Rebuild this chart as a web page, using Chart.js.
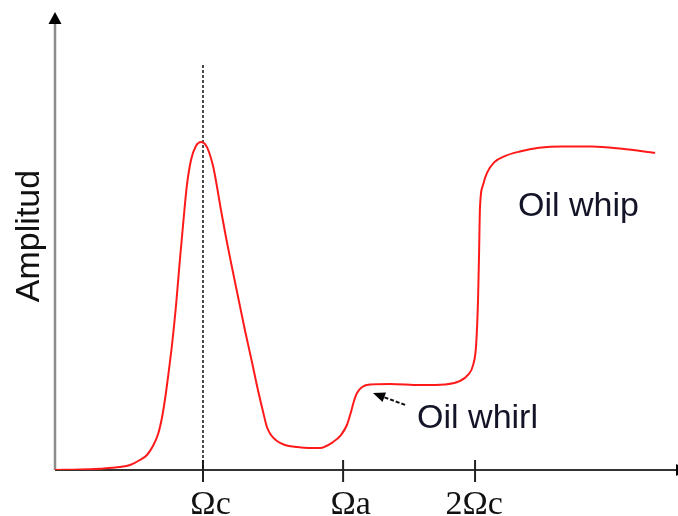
<!DOCTYPE html>
<html>
<head>
<meta charset="utf-8">
<script src="https://cdn.jsdelivr.net/npm/chart.js@4.4.1/dist/chart.umd.min.js"></script>
<style>
  html, body { margin: 0; padding: 0; background: #fff; }
  #wrap { width: 678px; height: 516px; }
</style>
</head>
<body>
<div id="wrap"><canvas id="chart" width="678" height="516"></canvas></div>
<script>
// frequency in units of the critical speed (Ω/Ωc), amplitude in arbitrary units
var freq = [0.456, 0.548, 0.620, 0.695, 0.732, 0.768, 0.794, 0.816, 0.835, 0.849, 0.860, 0.871, 0.886, 0.901, 0.915, 0.930, 0.941, 0.956, 0.974, 0.993,
  1.007, 1.022, 1.037, 1.051, 1.066, 1.085, 1.107, 1.129, 1.154, 1.180, 1.202, 1.221, 1.235, 1.250, 1.272, 1.301, 1.346, 1.390, 1.430,
  1.478, 1.507, 1.529, 1.544, 1.555, 1.566, 1.585, 1.614, 1.688, 1.798, 1.890, 1.945, 1.974, 1.993,
  2.004, 2.011, 2.015, 2.018, 2.029, 2.044, 2.070, 2.110, 2.165, 2.235, 2.320, 2.430, 2.540, 2.662];
var amp = [0, 0.1, 0.3, 0.66, 1.1, 2.2, 3.3, 5.27, 7.91, 11.43, 15.38, 20.22, 27.47, 36.26, 46.15, 56.04, 62.64, 68.13, 71.21, 72.09,
  71.65, 69.89, 66.81, 62.42, 57.14, 50.99, 44.40, 38.02, 30.77, 23.74, 17.58, 12.75, 9.45, 7.69, 6.37, 5.49, 5.05, 4.85, 4.84,
  6.15, 7.69, 9.89, 12.75, 15.16, 16.92, 18.24, 18.79, 18.9, 18.68, 18.79, 19.6, 20.9, 23.1,
  27.5, 37.4, 48.4, 57.5, 62.6, 65.3, 67.6, 69.0, 70.0, 70.8, 71.1, 71.1, 70.6, 69.7];

var tickValues = [1, 1.515, 2];
var tickLabels = ['Ωc', 'Ωa', '2Ωc'];
var yTitle = 'Amplitud';
var notes = ['Oil whip', 'Oil whirl'];

var points = [];
for (var i = 0; i < freq.length; i++) {
  points.push({ x: freq[i], y: amp[i] });
}

var axesPlugin = {
  id: 'axes',
  beforeDatasetsDraw: function (chart) {
    var ctx = chart.ctx;
    var a = chart.chartArea;
    var xs = chart.scales.x;
    var ys = chart.scales.y;
    ctx.save();

    // y axis with arrow
    ctx.strokeStyle = '#8c8c8c';
    ctx.lineWidth = 2.5;
    ctx.beginPath();
    ctx.moveTo(a.left, a.bottom);
    ctx.lineTo(a.left, a.top + 8);
    ctx.stroke();
    ctx.fillStyle = '#000';
    ctx.beginPath();
    ctx.moveTo(a.left, a.top - 3);
    ctx.lineTo(a.left - 6.5, a.top + 9);
    ctx.lineTo(a.left + 6.5, a.top + 9);
    ctx.closePath();
    ctx.fill();

    // x axis with arrow
    ctx.strokeStyle = '#333';
    ctx.lineWidth = 2;
    ctx.beginPath();
    ctx.moveTo(a.left, a.bottom);
    ctx.lineTo(a.right, a.bottom);
    ctx.stroke();
    ctx.fillStyle = '#000';
    ctx.beginPath();
    ctx.moveTo(a.right - 2, a.bottom - 6);
    ctx.lineTo(a.right + 10, a.bottom);
    ctx.lineTo(a.right - 2, a.bottom + 6);
    ctx.closePath();
    ctx.fill();

    // tick marks crossing the axis
    ctx.strokeStyle = '#222';
    ctx.lineWidth = 2;
    tickValues.forEach(function (v) {
      var px = xs.getPixelForValue(v);
      ctx.beginPath();
      ctx.moveTo(px, a.bottom - 10);
      ctx.lineTo(px, a.bottom + 12);
      ctx.stroke();
    });

    // dashed marker at the critical speed
    var cx = xs.getPixelForValue(tickValues[0]);
    ctx.strokeStyle = '#111';
    ctx.lineWidth = 1.5;
    ctx.setLineDash([3, 2]);
    ctx.beginPath();
    ctx.moveTo(cx, ys.getPixelForValue(89));
    ctx.lineTo(cx, a.bottom);
    ctx.stroke();
    ctx.setLineDash([]);
    ctx.restore();
  },
  afterDatasetsDraw: function (chart) {
    var ctx = chart.ctx;
    var a = chart.chartArea;
    var xs = chart.scales.x;
    var ys = chart.scales.y;
    ctx.save();

    // tick labels, the Ω centred on its tick
    ctx.font = '34px "Liberation Serif"';
    ctx.fillStyle = '#111';
    ctx.textAlign = 'left';
    ctx.textBaseline = 'alphabetic';
    tickValues.forEach(function (v, k) {
      var label = tickLabels[k];
      var idx = label.indexOf('Ω');
      var pre = label.slice(0, idx);
      var px = xs.getPixelForValue(v);
      var start = px - ctx.measureText('Ω').width / 2 - ctx.measureText(pre).width;
      ctx.fillText(label, start, a.bottom + 44);
    });

    // y axis title
    ctx.font = '34px "Liberation Sans"';
    ctx.fillStyle = '#111';
    ctx.translate(30, 236);
    ctx.rotate(-Math.PI / 2);
    ctx.textAlign = 'center';
    ctx.textBaseline = 'middle';
    ctx.fillText(yTitle, 0, 0);
    ctx.setTransform(1, 0, 0, 1, 0, 0);

    // annotations
    ctx.fillStyle = '#141428';
    ctx.textAlign = 'left';
    ctx.textBaseline = 'alphabetic';
    ctx.fillText(notes[0], xs.getPixelForValue(2.158), ys.getPixelForValue(55.8));
    ctx.fillText(notes[1], xs.getPixelForValue(1.787), ys.getPixelForValue(9.2));

    // arrow to the oil whirl step
    var x0 = xs.getPixelForValue(1.743), y0 = ys.getPixelForValue(14.3);
    var x1 = xs.getPixelForValue(1.625), y1 = ys.getPixelForValue(16.9);
    var ang = Math.atan2(y1 - y0, x1 - x0);
    ctx.strokeStyle = '#111';
    ctx.lineWidth = 2;
    ctx.setLineDash([4, 2]);
    ctx.beginPath();
    ctx.moveTo(x0, y0);
    ctx.lineTo(x1 - 9 * Math.cos(ang), y1 - 9 * Math.sin(ang));
    ctx.stroke();
    ctx.setLineDash([]);
    ctx.fillStyle = '#000';
    ctx.beginPath();
    ctx.moveTo(x1, y1);
    ctx.lineTo(x1 - 12 * Math.cos(ang) + 5 * Math.sin(ang), y1 - 12 * Math.sin(ang) - 5 * Math.cos(ang));
    ctx.lineTo(x1 - 12 * Math.cos(ang) - 5 * Math.sin(ang), y1 - 12 * Math.sin(ang) + 5 * Math.cos(ang));
    ctx.closePath();
    ctx.fill();
    ctx.restore();
  }
};

var chart = new Chart(document.getElementById('chart').getContext('2d'), {
  type: 'scatter',
  data: {
    datasets: [{
      data: points,
      showLine: true,
      borderColor: '#ff1a1a',
      borderWidth: 2,
      pointRadius: 0,
      cubicInterpolationMode: 'monotone',
      fill: false
    }]
  },
  options: {
    responsive: false,
    devicePixelRatio: 1,
    animation: false,
    layout: { padding: { left: 55, right: 0, top: 15, bottom: 46 } },
    plugins: { legend: { display: false }, tooltip: { enabled: false } },
    scales: {
      x: { type: 'linear', display: false, min: 0.456, max: 2.746 },
      y: { type: 'linear', display: false, min: 0, max: 100 }
    }
  },
  plugins: [axesPlugin]
});
</script>
</body>
</html>
